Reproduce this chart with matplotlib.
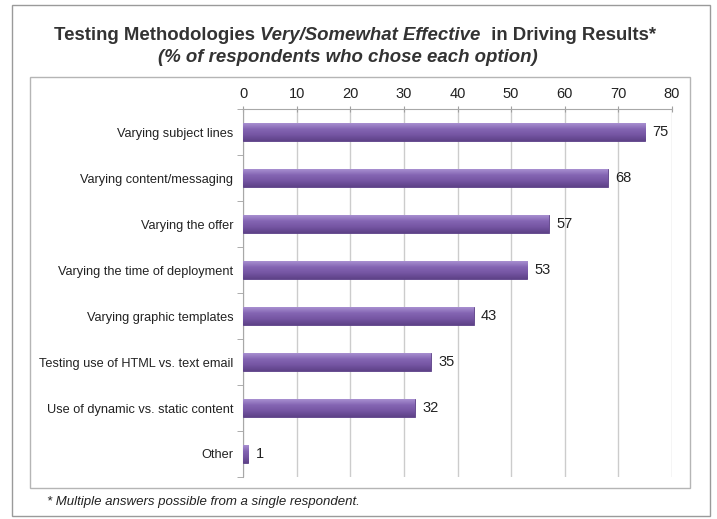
import numpy as np
import matplotlib.pyplot as plt
from matplotlib.patches import Rectangle
from matplotlib.colors import LinearSegmentedColormap

plt.rcParams['font.family'] = ['Liberation Sans', 'DejaVu Sans']

categories = ['Varying subject lines', 'Varying content/messaging', 'Varying the offer',
              'Varying the time of deployment', 'Varying graphic templates',
              'Testing use of HTML vs. text email', 'Use of dynamic vs. static content', 'Other']
values = [75, 68, 57, 53, 43, 35, 32, 1]
x_ticks = [0, 10, 20, 30, 40, 50, 60, 70, 80]

W, H = 717, 519
fig = plt.figure(figsize=(W / 100, H / 100), dpi=100)
fig.patch.set_facecolor('white')


def fig_box(x0, y0, x1, y1):
    # pixel box (top-left origin) -> figure fraction rectangle
    return (x0 / W, 1 - y1 / H, (x1 - x0) / W, (y1 - y0) / H)


# outer border and plot-area frame
for (x0, y0, x1, y1), col in [((12, 5, 710, 516), '#9a9a9a'), ((30, 77, 690, 488), '#b5b5b5')]:
    l, b, w, h = fig_box(x0, y0, x1, y1)
    fig.patches.append(Rectangle((l, b), w, h, transform=fig.transFigure,
                                 fill=False, edgecolor=col, linewidth=1.0))

ax = fig.add_axes(fig_box(243, 109, 672, 477))
y = np.arange(len(categories))
bars = ax.barh(y, values, height=0.39, color='#7857a5', edgecolor='#5b3f86',
               linewidth=0.6, zorder=3)

# gradient shading to imitate the bevelled bars
cmap = LinearSegmentedColormap.from_list('bar', ['#a88fd0', '#8465b3', '#7555a2', '#5e4288'])
grad = np.linspace(0, 1, 64).reshape(-1, 1)
for patch in bars:
    x0, y0 = patch.get_x(), patch.get_y()
    w, h = patch.get_width(), patch.get_height()
    im = ax.imshow(grad, cmap=cmap, aspect='auto', extent=(x0, x0 + w, y0 + h, y0),
                   zorder=3.5, interpolation='bilinear')
    im.set_clip_path(patch)

for yi, v in zip(y, values):
    ax.text(v + 1.4, yi, str(v), va='center', ha='left', fontsize=10.5, color='#222222')

ax.set_xlim(0, 80)
ax.set_ylim(len(categories) - 0.5, -0.5)
ax.set_xticks(x_ticks)
ax.xaxis.tick_top()
ax.tick_params(axis='x', direction='inout', length=5, color='#a0a0a0', labelsize=10.5,
               pad=3, labelcolor='#222222')
ax.set_yticks(y)
ax.set_yticklabels(categories)
ax.tick_params(axis='y', length=0, labelsize=9.2, pad=7, labelcolor='#222222')
ax.set_yticks(np.arange(-0.5, len(categories), 1), minor=True)
ax.tick_params(axis='y', which='minor', length=4, color='#a0a0a0', direction='out')
ax.grid(axis='x', color='#cccccc', linewidth=1.0, zorder=0)
for side in ['right', 'bottom']:
    ax.spines[side].set_visible(False)
for side in ['left', 'top']:
    ax.spines[side].set_color('#a8a8a8')

# title built from pieces so the middle part can be italic
title_y = 1 - 35 / H
t1 = fig.text(0, title_y, 'Testing Methodologies ', fontsize=13.4, fontweight='bold',
              color='#333333', va='center')
t2 = fig.text(0, title_y, 'Very/Somewhat Effective', fontsize=13.4, fontweight='bold',
              style='italic', color='#333333', va='center')
t3 = fig.text(0, title_y, '  in Driving Results*', fontsize=13.4, fontweight='bold',
              color='#333333', va='center')
fig.canvas.draw()
r = fig.canvas.get_renderer()
widths = [t.get_window_extent(r).width for t in (t1, t2, t3)]
start = 355 - sum(widths) / 2
for t, wdt in zip((t1, t2, t3), widths):
    t.set_x(start / W)
    start += wdt
fig.text(348 / W, 1 - 58 / H, '(% of respondents who chose each option)', fontsize=13.4,
         fontweight='bold', style='italic', color='#333333', ha='center', va='center')

fig.text(47 / W, 1 - 502 / H, '* Multiple answers possible from a single respondent.',
         fontsize=9.5, style='italic', color='#222222', va='center')

fig.savefig('out.png', dpi=100)
